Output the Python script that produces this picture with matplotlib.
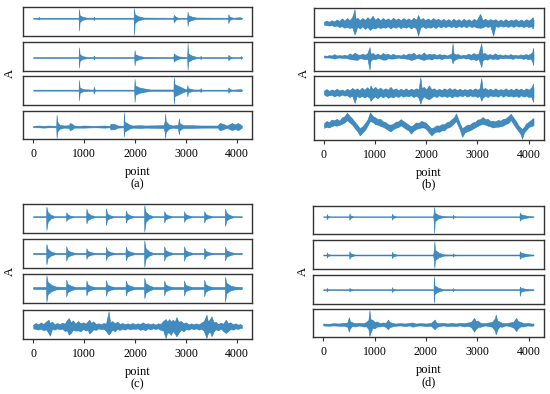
import matplotlib
matplotlib.use("Agg")
import matplotlib.pyplot as plt

plt.rcParams['font.family'] = ['Liberation Serif', 'DejaVu Serif']

# ---------------- data: envelope keypoints (x, upper, lower) ----------------
A1 = [(0,1.5,-1.5),(100,1.5,-1.5),(110,4,-4),(125,1.5,-1.5),(892,1.5,-1.5),(900,27,-36),(912,9,-11),(960,5,-5),
      (1040,2,-2),(1180,1.5,-1.5),(1190,5,-5),(1205,1.5,-1.5),(1972,1.5,-1.5),(1980,29,-48),(1992,12,-14),
      (2060,6,-6),(2170,2,-2),(2750,1.5,-1.5),(2760,10,-12),(2790,5,-5),(2840,1.5,-1.5),(3022,1.5,-1.5),
      (3030,19,-23),(3042,9,-10),(3110,5,-5),(3200,2,-2),(3822,1.5,-1.5),(3830,12,-14),(3850,5,-5),
      (3920,1.5,-1.5),(4060,3,-3),(4095,1.5,-1.5)]
A2 = [(0,1.5,-1.5),(892,1.5,-1.5),(900,30,-30),(912,10,-10),(970,4,-4),(1050,2,-2),(1180,1.5,-1.5),(1190,6,-6),
      (1210,1.5,-1.5),(1982,1.5,-1.5),(1990,22,-23),(2002,10,-10),(2070,5,-5),(2170,2,-2),(2750,1.5,-1.5),
      (2760,12,-12),(2790,8,-8),(2860,3,-3),(3022,1.5,-1.5),(3030,42,-36),(3042,12,-12),(3110,6,-6),(3200,2,-2),
      (3275,1.5,-1.5),(3285,5,-5),(3300,1.5,-1.5),(3822,1.5,-1.5),(3830,8,-8),(3860,3,-3),(3910,1.5,-1.5),
      (4065,1.5,-1.5),(4075,4,-4),(4095,2,-2)]
A3 = [(0,1.5,-1.5),(892,1.5,-1.5),(900,30,-30),(912,8,-8),(980,3,-3),(1180,1.5,-1.5),(1190,10,-10),(1210,1.5,-1.5),
      (1982,1.5,-1.5),(1990,33,-35),(2002,14,-14),(2080,8,-8),(2180,5,-5),(2300,2,-2),(2752,2,-2),(2760,38,-40),
      (2772,18,-18),(2830,14,-14),(2900,9,-9),(2970,4,-4),(3015,3,-3),(3025,15,-18),(3040,6,-6),(3140,2,-2),
      (3275,2,-2),(3285,6,-6),(3305,1.5,-1.5),(3822,1.5,-1.5),(3830,8,-8),(3860,3,-3),(3910,1.5,-1.5),
      (4070,3,-3),(4095,1.5,-1.5)]
A4 = [(0,2,-2),(100,3,-2),(200,2,-3),(300,3,-2),(452,2,-2),(460,33,-32),(472,14,-14),(520,5,-6),(600,3,-3),
      (700,4,-4),(720,10,-10),(760,8,-8),(800,3,-3),(900,2,-3),(1000,3,-3),(1200,2,-2),(1400,3,-3),(1500,2,-2),
      (1520,8,-8),(1600,7,-7),(1660,3,-3),(1772,2,-2),(1780,40,-27),(1792,14,-14),(1840,10,-10),(1900,5,-5),
      (1950,3,-3),(2100,4,-4),(2200,3,-3),(2560,4,-4),(2580,15,-15),(2590,36,-32),(2602,15,-15),(2660,6,-6),
      (2740,3,-3),(2840,5,-5),(2860,23,-22),(2872,10,-10),(2940,4,-4),(3100,4,-4),(3300,3,-3),(3620,3,-3),
      (3660,10,-10),(3720,8,-8),(3800,3,-3),(3900,10,-10),(3960,6,-6),(4020,10,-10),(4095,3,-3)]

B1 = [(0,4,-4),(50,7,-5),(100,4,-6),(150,8,-5),(200,5,-8),(250,10,-6),(300,6,-10),(350,13,-8),(400,7,-12),
      (450,14,-9),(500,8,-13),(550,16,-10),(598,37,-30),(620,10,-22),(650,15,-9),(700,8,-14),(750,14,-8),
      (800,9,-15),(850,16,-10),(900,10,-18),(950,20,-12),(1000,9,-14),(1050,15,-9),(1100,8,-13),(1150,14,-10),
      (1200,9,-12),(1250,13,-8),(1300,8,-14),(1350,15,-9),(1400,9,-12),(1450,13,-8),(1500,8,-13),(1550,14,-9),
      (1600,9,-12),(1650,13,-8),(1700,8,-14),(1750,15,-9),(1800,9,-13),(1840,22,-33),(1880,9,-12),(1930,14,-8),
      (1980,8,-13),(2030,13,-9),(2080,8,-12),(2130,14,-8),(2180,9,-13),(2230,12,-7),(2280,7,-11),(2330,12,-8),
      (2380,7,-10),(2430,11,-7),(2480,6,-10),(2530,12,-8),(2580,7,-11),(2630,11,-7),(2680,6,-10),(2730,12,-7),
      (2780,7,-11),(2830,11,-6),(2880,6,-10),(2930,12,-8),(2980,7,-11),(3050,25,-12),(3100,8,-11),(3150,12,-7),
      (3200,7,-10),(3250,11,-7),(3307,8,-33),(3350,11,-7),(3400,6,-10),(3450,10,-6),(3500,6,-9),(3550,11,-7),
      (3600,6,-10),(3650,10,-6),(3700,7,-10),(3750,11,-6),(3800,6,-9),(3850,10,-7),(3900,6,-10),(3950,11,-7),
      (4000,7,-10),(4050,12,-8),(4080,16,-14),(4095,8,-6)]
B2 = [(0,3,-3),(50,2,-3),(100,4,-3),(150,3,-4),(200,7,-6),(250,3,-4),(300,4,-3),(350,3,-4),(400,5,-4),
      (450,3,-5),(500,9,-7),(550,5,-8),(600,11,-9),(650,6,-10),(700,5,-4),(750,8,-6),(800,5,-8),(850,10,-7),
      (890,27,-38),(910,8,-12),(950,10,-7),(1000,5,-8),(1050,8,-5),(1100,4,-6),(1150,10,-9),(1200,6,-9),
      (1250,8,-5),(1300,4,-6),(1350,8,-6),(1400,4,-5),(1450,5,-3),(1500,3,-5),(1550,7,-5),(1600,4,-6),
      (1650,9,-7),(1700,6,-10),(1750,11,-8),(1800,4,-5),(1850,7,-5),(1900,5,-8),(1950,12,-10),(2000,5,-7),
      (2050,8,-6),(2100,6,-9),(2150,8,-5),(2200,4,-6),(2250,7,-5),(2300,5,-8),(2350,6,-4),(2400,3,-5),
      (2450,6,-4),(2490,8,-6),(2513,38,-20),(2530,10,-12),(2570,6,-8),(2620,7,-5),(2670,3,-5),(2720,5,-3),
      (2770,4,-6),(2820,8,-5),(2870,5,-9),(2920,10,-7),(2970,6,-11),(3020,9,-6),(3074,38,-30),(3095,9,-12),
      (3140,10,-7),(3190,5,-9),(3240,7,-5),(3290,4,-7),(3340,9,-6),(3390,5,-8),(3440,6,-4),(3490,3,-5),
      (3540,6,-4),(3590,3,-5),(3640,7,-5),(3690,4,-7),(3740,5,-3),(3790,3,-5),(3840,6,-4),(3890,4,-7),
      (3940,7,-5),(3990,5,-8),(4040,9,-6),(4070,12,-14),(4085,25,-25),(4095,10,-10)]
B3 = [(0,6,-5),(50,10,-9),(100,5,-7),(150,9,-6),(200,6,-10),(250,11,-7),(300,6,-9),(350,9,-5),(400,5,-8),
      (450,11,-7),(500,7,-12),(550,13,-8),(600,8,-28),(640,12,-8),(690,7,-13),(740,14,-9),(790,8,-13),
      (840,15,-9),(890,9,-14),(910,20,-22),(950,10,-15),(1000,16,-10),(1050,9,-15),(1100,14,-8),(1150,8,-13),
      (1200,12,-8),(1250,8,-14),(1300,16,-10),(1350,8,-13),(1400,12,-8),(1450,7,-12),(1500,11,-7),(1550,7,-11),
      (1600,12,-8),(1650,7,-10),(1700,11,-7),(1750,8,-12),(1800,12,-8),(1850,9,-14),(1883,42,-30),(1910,12,-18),
      (1950,16,-10),(2000,9,-15),(2050,20,-18),(2100,9,-13),(2150,12,-8),(2200,7,-12),(2250,11,-7),(2300,7,-11),
      (2350,12,-8),(2400,8,-12),(2450,13,-8),(2500,8,-13),(2550,12,-8),(2600,7,-11),(2650,11,-7),(2700,7,-10),
      (2750,10,-6),(2800,7,-11),(2850,11,-7),(2900,7,-10),(2950,12,-8),(3000,8,-12),(3040,12,-8),(3074,40,-22),
      (3100,10,-14),(3150,13,-8),(3200,8,-12),(3250,11,-7),(3300,7,-10),(3350,12,-8),(3400,7,-11),(3450,10,-6),
      (3500,7,-11),(3550,12,-7),(3600,7,-10),(3650,11,-8),(3700,7,-11),(3750,12,-8),(3800,8,-12),(3850,11,-7),
      (3900,7,-11),(3950,12,-8),(4000,8,-12),(4050,14,-10),(4085,25,-25),(4095,10,-10)]
B4 = [(0,6,-7),(50,12,-4),(100,9,-6),(150,16,-2),(200,14,0),(250,18,-1),(300,13,1),(350,22,4),(400,25,8),
      (450,35,14),(500,26,8),(550,19,2),(600,10,-8),(650,1,-16),(700,-8,-28),(750,-3,-20),(800,6,-13),
      (850,16,-1),(900,36,12),(950,26,9),(1000,22,3),(1050,17,2),(1100,18,-2),(1150,11,-4),(1200,9,-8),
      (1250,3,-13),(1300,2,-17),(1350,4,-11),(1400,10,-7),(1450,11,-5),(1500,17,0),(1550,12,-5),(1600,7,-10),
      (1650,2,-14),(1700,-3,-23),(1750,2,-15),(1800,8,-10),(1850,7,-8),(1900,12,-6),(1950,10,-6),(2000,6,-11),
      (2050,-2,-20),(2100,-8,-28),(2150,-5,-21),(2200,0,-17),(2250,-1,-18),(2300,3,-14),(2350,3,-14),
      (2400,9,-7),(2450,11,-5),(2500,18,0),(2540,22,6),(2580,33,12),(2620,18,-1),(2660,4,-14),(2700,-8,-32),
      (2750,-3,-20),(2800,2,-16),(2850,2,-14),(2900,8,-10),(2950,9,-6),(3000,16,-2),(3050,17,2),(3100,23,4),
      (3150,17,2),(3200,18,-1),(3250,12,-3),(3300,13,-6),(3350,11,-4),(3400,15,-4),(3450,13,-2),(3500,18,-1),
      (3550,19,4),(3600,25,6),(3650,32,15),(3700,22,4),(3750,12,-7),(3800,0,-16),(3840,-6,-24),(3870,-10,-37),
      (3910,-4,-20),(3950,5,-13),(4000,10,-5),(4050,16,-2),(4095,20,0)]

C1 = [(0,1.5,-1.5),(254,1.5,-1.5),(260,30,-40),(285,14,-16),(340,6,-6),(420,1.5,-1.5),
      (643,1.5,-1.5),(649,13,-13),(675,7,-7),(730,3,-3),(810,1.5,-1.5),
      (1039,1.5,-1.5),(1045,24,-20),(1070,11,-10),(1130,5,-5),(1210,1.5,-1.5),
      (1422,1.5,-1.5),(1428,25,-25),(1453,9,-9),(1510,4,-4),(1590,1.5,-1.5),
      (1812,1.5,-1.5),(1818,18,-18),(1843,9,-9),(1900,4,-4),(1980,1.5,-1.5),
      (2175,1.5,-1.5),(2181,34,-45),(2206,15,-16),(2270,6,-6),(2350,1.5,-1.5),
      (2565,1.5,-1.5),(2571,17,-17),(2596,8,-8),(2650,4,-4),(2730,1.5,-1.5),
      (2954,1.5,-1.5),(2960,16,-16),(2985,8,-8),(3040,4,-4),(3120,1.5,-1.5),
      (3350,1.5,-1.5),(3356,17,-17),(3381,8,-8),(3440,4,-4),(3520,1.5,-1.5),
      (3759,1.5,-1.5),(3765,24,-28),(3790,12,-12),(3850,5,-5),(3930,1.5,-1.5),(4095,1.5,-1.5)]
C2 = [(0,2,-2),(254,2,-2),(260,29,-33),(285,14,-14),(350,6,-6),(430,2,-2),
      (643,2,-2),(649,22,-22),(675,10,-10),(740,5,-5),(820,2,-2),
      (1039,2,-2),(1045,16,-16),(1070,8,-8),(1130,4,-4),(1210,2,-2),
      (1422,2,-2),(1428,20,-20),(1453,9,-9),(1520,4,-4),(1600,2,-2),
      (1812,2,-2),(1818,21,-21),(1843,10,-10),(1910,5,-5),(1990,2,-2),
      (2175,2,-2),(2181,40,-40),(2206,16,-16),(2270,7,-7),(2350,2,-2),
      (2565,2,-2),(2571,22,-22),(2596,10,-10),(2660,5,-5),(2740,2,-2),
      (2954,2,-2),(2960,22,-22),(2985,10,-10),(3050,5,-5),(3130,2,-2),
      (3350,2,-2),(3356,17,-17),(3381,8,-8),(3440,4,-4),(3520,2,-2),
      (3759,2,-2),(3765,21,-21),(3790,10,-10),(3860,5,-5),(3940,2,-2),(4095,2,-2)]
C3 = [(0,3,-3),(254,3,-3),(260,37,-40),(285,18,-18),(360,9,-9),(450,4,-4),
      (643,3,-3),(649,25,-25),(675,12,-12),(750,6,-6),(830,3,-3),
      (1039,3,-3),(1045,22,-22),(1070,10,-10),(1140,5,-5),(1220,3,-3),
      (1422,3,-3),(1428,23,-23),(1453,10,-10),(1520,5,-5),(1600,3,-3),
      (1812,3,-3),(1818,22,-22),(1843,11,-11),(1910,6,-6),(1990,3,-3),
      (2175,3,-3),(2181,30,-30),(2206,14,-14),(2280,7,-7),(2360,3,-3),
      (2565,3,-3),(2571,22,-22),(2596,10,-10),(2660,5,-5),(2740,3,-3),
      (2954,3,-3),(2960,22,-22),(2985,10,-10),(3050,5,-5),(3130,3,-3),
      (3350,3,-3),(3356,24,-24),(3381,11,-11),(3450,5,-5),(3530,3,-3),
      (3759,3,-3),(3765,33,-40),(3790,15,-15),(3870,7,-7),(3950,4,-4),(4095,3,-3)]
C4 = [(0,5,-6),(50,10,-8),(100,6,-10),(150,12,-7),(200,7,-12),(250,14,-9),(300,20,-20),(330,10,-28),(370,14,-8),
      (420,6,-10),(470,10,-6),(520,6,-9),(570,11,-7),(620,8,-14),(660,18,-12),(700,25,-25),(740,12,-20),
      (780,18,-10),(830,8,-13),(880,16,-12),(930,9,-15),(980,12,-8),(1030,8,-13),(1070,15,-10),(1100,20,-22),
      (1140,10,-16),(1180,15,-9),(1230,7,-11),(1280,9,-6),(1330,6,-9),(1380,10,-7),(1430,8,-14),(1480,45,-25),
      (1510,12,-20),(1550,16,-10),(1600,9,-15),(1650,14,-8),(1700,7,-11),(1750,10,-7),(1800,6,-10),(1850,9,-6),
      (1900,6,-9),(1950,10,-7),(2000,6,-8),(2050,9,-6),(2100,7,-11),(2150,12,-8),(2200,7,-12),(2250,9,-6),
      (2300,6,-9),(2350,9,-6),(2400,5,-8),(2450,9,-6),(2500,7,-11),(2550,16,-12),(2600,22,-35),(2630,14,-18),
      (2670,22,-20),(2700,14,-26),(2740,20,-14),(2780,14,-22),(2810,28,-30),(2850,14,-20),(2900,16,-10),
      (2950,9,-15),(3000,12,-8),(3050,6,-10),(3100,9,-6),(3150,6,-9),(3200,9,-6),(3250,6,-10),(3300,11,-7),
      (3350,16,-14),(3400,35,-35),(3430,14,-20),(3470,22,-16),(3500,30,-30),(3540,12,-16),(3580,14,-9),
      (3630,7,-12),(3680,11,-7),(3730,8,-14),(3780,20,-20),(3820,10,-15),(3870,12,-8),(3920,6,-10),(3970,9,-6),
      (4020,5,-8),(4060,7,-5),(4095,4,-5)]

D1 = [(0,1,-1),(64,1,-1),(70,8,-8),(85,3,-3),(130,1,-1),(504,1,-1),(510,10,-10),(525,4,-4),(590,1,-1),
      (1332,1,-1),(1338,9,-9),(1355,4,-4),(1420,1,-1),(2140,1,-1),(2150,10,-10),(2160,28,-48),(2172,12,-14),
      (2240,5,-5),(2330,2,-2),(2517,1,-1),(2523,6,-6),(2540,2,-2),(2590,1,-1),(3822,1,-1),(3828,12,-12),
      (3850,7,-7),(3930,4,-4),(4000,2,-2),(4095,1,-1)]
D2 = [(0,1.5,-1.5),(64,1.5,-1.5),(70,8,-8),(85,3,-3),(140,1.5,-1.5),(504,1.5,-1.5),(510,12,-12),(525,6,-6),
      (610,1.5,-1.5),(1332,1.5,-1.5),(1338,10,-10),(1355,5,-5),(1430,1.5,-1.5),(2140,1.5,-1.5),(2152,12,-12),
      (2165,43,-40),(2177,16,-16),(2250,7,-7),(2350,2,-2),(2517,1.5,-1.5),(2523,5,-5),(2540,2,-2),
      (2590,1.5,-1.5),(3822,1.5,-1.5),(3828,12,-12),(3850,7,-7),(3940,4,-4),(4020,2,-2),(4095,1.5,-1.5)]
D3 = [(0,1.5,-1.5),(64,1.5,-1.5),(70,6,-6),(85,2,-2),(130,1.5,-1.5),(504,1.5,-1.5),(510,6,-6),(525,3,-3),
      (590,1.5,-1.5),(1332,1.5,-1.5),(1338,8,-8),(1355,3,-3),(1420,1.5,-1.5),(2148,1.5,-1.5),(2155,43,-42),
      (2167,14,-14),(2240,6,-6),(2330,2,-2),(2517,1.5,-1.5),(2523,5,-5),(2540,2,-2),(2590,1.5,-1.5),
      (3822,1.5,-1.5),(3828,10,-20),(3850,6,-6),(3930,3,-3),(4095,1.5,-1.5)]
D4 = [(0,3,-3),(100,2,-4),(200,4,-3),(300,3,-4),(400,5,-4),(470,6,-7),(500,22,-22),(520,10,-12),(560,7,-5),
      (620,4,-6),(700,5,-3),(780,4,-6),(840,8,-6),(880,14,-14),(900,43,-35),(920,16,-25),(960,14,-10),
      (1000,8,-12),(1050,9,-6),(1100,4,-6),(1160,6,-4),(1220,5,-8),(1260,15,-15),(1290,8,-8),(1340,5,-6),
      (1400,3,-4),(1500,4,-3),(1600,3,-5),(1680,5,-3),(1740,6,-7),(1800,3,-4),(1900,4,-3),(2000,3,-5),
      (2100,5,-4),(2170,15,-15),(2200,6,-8),(2260,4,-5),(2340,5,-3),(2420,3,-5),(2500,5,-4),(2580,3,-5),
      (2660,5,-3),(2740,4,-6),(2820,6,-4),(2880,8,-8),(2940,20,-22),(2970,10,-14),(3010,12,-8),(3060,5,-7),
      (3150,4,-3),(3220,6,-5),(3290,8,-7),(3340,18,-18),(3360,30,-30),(3390,12,-16),(3430,9,-6),(3480,5,-7),
      (3550,4,-3),(3630,6,-5),(3700,8,-9),(3760,20,-20),(3790,10,-12),(3840,8,-6),(3900,4,-6),(3980,5,-3),
      (4050,3,-4),(4095,3,-3)]

tick_values = [0, 1000, 2000, 3000, 4000]
tick_labels = ['0', '1000', '2000', '3000', '4000']
panel_labels = ['(a)', '(b)', '(c)', '(d)']
panel_rows = [[A1, A2, A3, A4], [B1, B2, B3, B4], [C1, C2, C3, C4], [D1, D2, D3, D4]]

# ---------------- layout (pixels) ----------------
W, H = 550, 394
fig = plt.figure(figsize=(W / 100, H / 100), dpi=100)

panel_x = [(22.7, 252.3), (313.5, 544), (22.7, 252.3), (312.7, 544)]
panel_y = [[(7, 36), (42, 71), (76, 105), (111, 139.3)],
           [(8, 37), (42, 71), (76, 105), (111, 140)],
           [(204, 233), (239, 268), (274, 303), (310, 339.3)],
           [(206, 234), (240, 269), (275, 304), (309, 337.3)]]
ylabel_x = [10, 304, 10, 303]

color = '#1f77b4'
for p in range(4):
    x0, x1 = panel_x[p]
    for r in range(4):
        yt, yb = panel_y[p][r]
        ax = fig.add_axes([x0 / W, 1 - yb / H, (x1 - x0) / W, (yb - yt) / H])
        xs, hi, lo = zip(*panel_rows[p][r])
        ax.fill_between(xs, lo, hi, color=color, alpha=0.85, linewidth=0.4, edgecolor=color)
        ax.set_yticks([])
        for s in ax.spines.values():
            s.set_color('#333333')
            s.set_linewidth(1.0)
        if r < 3:
            ax.set_xticks([])
        else:
            ax.set_xticks(tick_values)
            ax.set_xticklabels(tick_labels, fontsize=8.5)
            ax.tick_params(axis='x', length=3, width=0.8, color='#333333', pad=3.5)
            ax.set_xlabel('point\n' + panel_labels[p], fontsize=9, linespacing=1.0, labelpad=4)
    yc = (panel_y[p][0][0] + panel_y[p][3][1]) / 2
    fig.text(ylabel_x[p] / W, 1 - yc / H, 'A', rotation=90, fontsize=9, ha='center', va='center')

fig.savefig('out.png', dpi=100)
